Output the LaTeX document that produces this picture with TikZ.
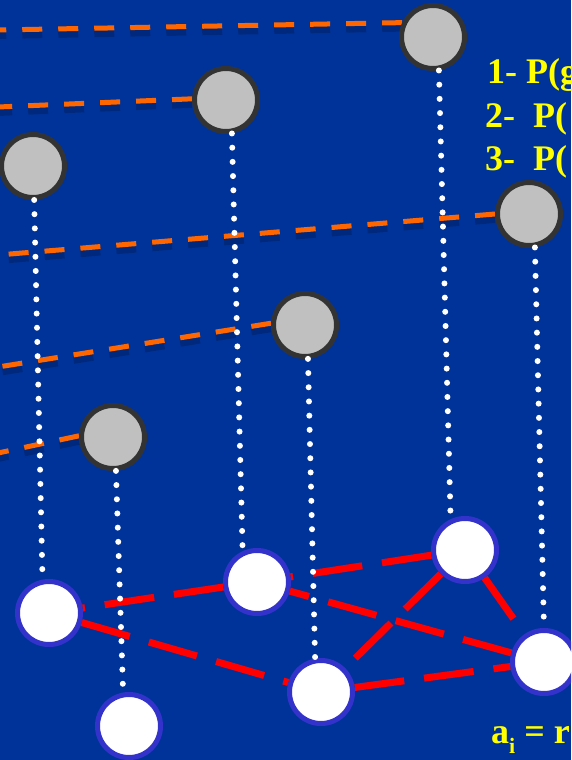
\documentclass[tikz,border=0pt]{standalone}
\usepackage{fontspec}
\setmainfont{Liberation Serif}
\pgfdeclarelayer{back}
\pgfsetlayers{back,main}
\definecolor{bgblue}{HTML}{003399}
\definecolor{orangeline}{HTML}{FF6600}
\definecolor{grayfill}{HTML}{C0C0C0}
\definecolor{graybord}{HTML}{333333}
\definecolor{wbord}{HTML}{3333CC}
\definecolor{txtyellow}{HTML}{FFFF00}
\tikzset{
  gnode/.style={circle, minimum size=63pt, inner sep=0pt, fill=grayfill, draw=graybord, line width=5pt},
  wnode/.style={circle, minimum size=63pt, inner sep=0pt, fill=white, draw=wbord, line width=5pt},
  oline/.style={draw=orangeline, line width=5pt, dash pattern=on 20pt off 16pt},
  oshadow/.style={draw=black, opacity=0.18, line width=8pt, dash pattern=on 20pt off 16pt, transform canvas={yshift=-5pt}},
  rline/.style={draw=red, line width=7pt, dash pattern=on 50pt off 20pt},
  dline/.style={draw=white, line width=6pt, line cap=round, dash pattern=on 0pt off 14.2pt},
  txt/.style={text=txtyellow, font=\fontsize{36}{36}\selectfont\bfseries, inner sep=0pt, anchor=base west}
}
\begin{document}
\begin{tikzpicture}[x=1pt,y=-1pt]
\useasboundingbox (0,0) rectangle (571,760);
\clip (0,0) rectangle (571,760);
% circles
\node[gnode] (G1) at (433,37) {};
\node[gnode] (G2) at (226,100) {};
\node[gnode] (G3) at (33,166) {};
\node[gnode] (G4) at (529,214) {};
\node[gnode] (G5) at (305,325) {};
\node[gnode] (G6) at (113,437) {};
\node[wnode] (W1) at (49,613) {};
\node[wnode] (W2) at (257,582) {};
\node[wnode] (W3) at (465,550) {};
\node[wnode] (W4) at (544,662) {};
\node[wnode] (W5) at (321,692) {};
\node[wnode] (W6) at (129,726) {};
% free ends of orange lines
\coordinate (o1) at (-2,30);
\coordinate (o2) at (-2,107);
\coordinate (o3) at (-2,255);
\coordinate (o4) at (-2,367);
\coordinate (o5) at (-2,453);
\begin{pgfonlayer}{back}
\fill[bgblue] (0,0) rectangle (571,760);
\foreach \a/\b in {G1.155/o1, G2.178/o2, G4.180/o3, G5.177/o4, G6.178/o5}{
  \draw[oshadow] (\a) -- (\b);
}
\foreach \a/\b in {G1.155/o1, G2.178/o2, G4.180/o3, G5.177/o4, G6.178/o5}{
  \draw[oline] (\a) -- (\b);
}
\draw[rline] (W2) -- (W1);
\draw[rline] (W1) -- (W5);
\draw[rline] (W3) -- (W2);
\draw[rline] (W3) -- (W4);
\draw[rline] (W3) -- (W5);
\draw[rline] (W4) -- (W2);
\draw[rline] (W5) -- (W4);
\end{pgfonlayer}
% dotted verticals
\draw[dline] (G1.-80) -- (W3.115);
\draw[dline] (G2.-80) -- (W2.115);
\draw[dline] (G3.-88) -- (W1.101);
\draw[dline] (G4.-80) -- (W4.90);
\draw[dline] (G5.-85) -- (W5.100);
\draw[dline] (G6.-85) -- (W6.100);
% texts
\node[txt] (t1) at (487,83) {1- P(g};
\node[txt] (t2) at (485,127) {2-\ \ P(};
\node[txt] (t3) at (485,170) {3-\ \ P(};
\node[txt] (t4) at (491,743) {a\raisebox{-0.3em}{\fontsize{22}{22}\selectfont i} = r};
\end{tikzpicture}
\end{document}
